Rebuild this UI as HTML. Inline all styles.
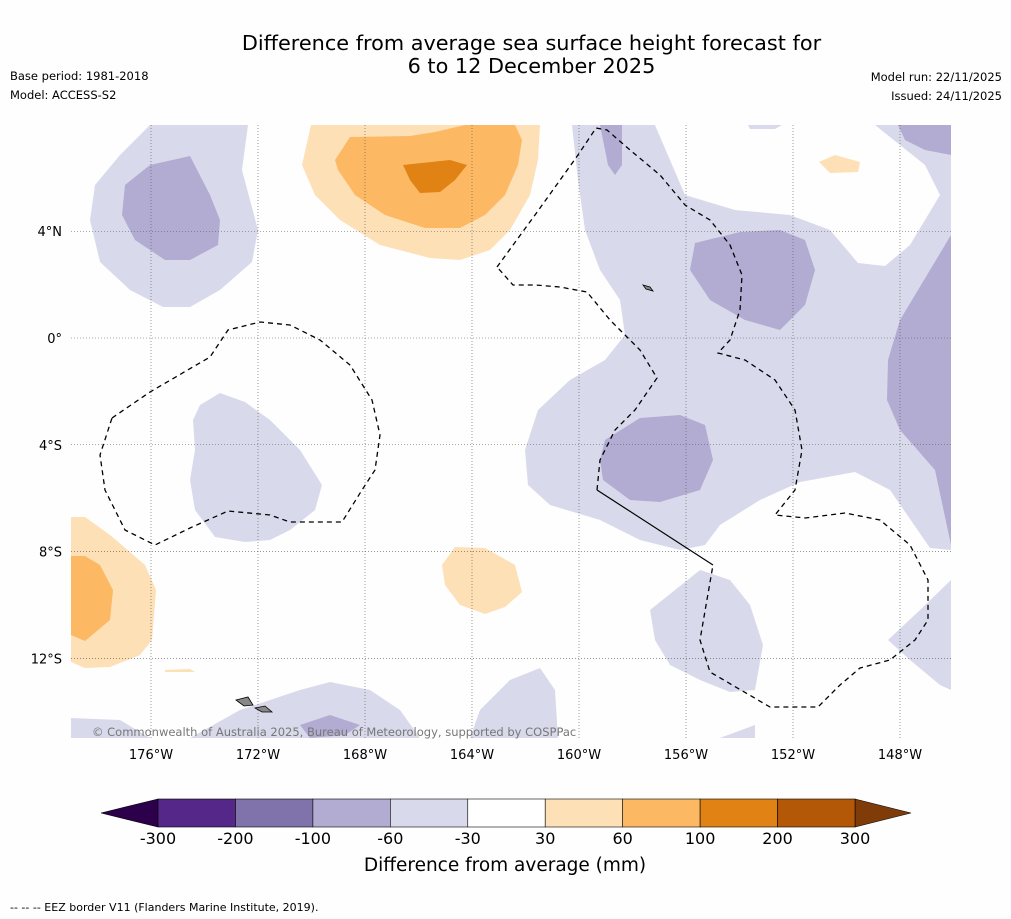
<!DOCTYPE html>
<html><head><meta charset="utf-8">
<style>
body{margin:0;background:#fefefe;}
#wrap{position:relative;width:1011px;height:919px;font-family:"DejaVu Sans",sans-serif;color:#000;}
.t{position:absolute;white-space:nowrap}
</style></head>
<body>
<div id="wrap">
<div class="t" style="left:0;width:1063px;top:32px;text-align:center;font-size:20.8px;line-height:23px">Difference from average sea surface height forecast for<br>6 to 12 December 2025</div>
<div class="t" style="left:10px;top:69px;font-size:11.5px">Base period: 1981-2018</div>
<div class="t" style="left:10px;top:88px;font-size:11.5px">Model: ACCESS-S2</div>
<div class="t" style="right:9px;top:70px;font-size:11.5px">Model run: 22/11/2025</div>
<div class="t" style="right:9px;top:89px;font-size:11.5px">Issued: 24/11/2025</div>
<svg id="map" width="1011" height="919" style="position:absolute;left:0;top:0">
<defs><clipPath id="c"><rect x="71" y="125" width="880" height="613"/></clipPath></defs>
<g clip-path="url(#c)" stroke="none">
<g fill="#d8daeb">
<path d="M150,125L248,125L242,170L258,230L252,262L220,290L190,307L163,307L130,290L100,262L90,220L95,185L120,155Z"/>
<path d="M572,125L655,125L685,195L735,210L790,215L830,230L858,263L885,266L910,245L940,195L925,165L900,145L875,125L951,125L951,550L930,548L890,490L855,472L800,482L760,500L720,525L705,545L680,550L640,540L600,520L550,505L528,485L525,450L538,410L570,380L605,360L625,335L620,300L600,270L585,230L578,180Z"/>
<path d="M748,125L782,125L775,129L750,129Z"/>
<path d="M200,405L220,393L245,402L270,420L300,450L322,485L315,510L290,530L270,540L245,542L215,537L195,510L190,480L195,450L193,420Z"/>
<path d="M650,610L700,570L730,580L750,605L763,645L755,690L730,692L700,680L670,665L655,640Z"/>
<path d="M951,580L920,610L888,640L910,660L940,685L951,690Z"/>
<path d="M71,718L120,720L150,738L71,738Z"/>
<path d="M190,738L240,710L300,690L330,682L370,690L400,710L420,738Z"/>
<path d="M470,738L480,710L510,680L540,668L555,690L558,738Z"/>
<path d="M720,738L755,725L755,738Z"/>
</g>
<g fill="#b2abd2">
<path d="M125,185L150,165L190,156L210,195L220,220L218,245L190,260L165,260L135,240L122,215Z"/>
<path d="M600,125L622,125L622,165L615,175L608,165Z"/>
<path d="M695,243L740,232L780,230L805,240L815,270L805,305L780,330L745,320L710,300L690,270Z"/>
<path d="M951,235L930,270L900,320L888,360L887,400L900,430L935,470L951,545Z"/>
<path d="M898,125L951,125L951,155L925,150L905,140Z"/>
<path d="M605,440L640,418L680,415L705,425L713,460L700,490L660,502L630,500L603,480L600,460Z"/>
<path d="M300,725L330,715L360,725L345,735L310,738Z"/>
</g>
<g fill="#fee0b6">
<path d="M311,125L540,125L538,160L530,195L510,230L490,250L460,260L430,258L380,245L340,220L315,195L302,165Z"/>
<path d="M71,517L85,517L110,535L145,565L156,590L152,640L140,655L110,667L85,668L71,662Z"/>
<path d="M455,547L485,548L515,565L522,592L505,607L485,614L460,605L445,585L442,565Z"/>
<path d="M819,162L835,155L860,162L858,172L830,173Z"/>
<path d="M165,670L190,669L195,672L165,672Z"/>
</g>
<g fill="#fdb863">
<path d="M350,137L410,136L435,132L465,125L515,125L522,140L518,165L505,195L485,215L460,228L425,228L385,215L355,195L338,170L335,160Z"/>
<path d="M71,556L85,556L100,565L113,590L110,620L85,641L71,635Z"/>
</g>
<path fill="#e08214" d="M403,165L450,160L467,165L455,180L440,192L420,193L410,180Z"/>
<g id="grid" stroke="#555" stroke-width="0.6" stroke-dasharray="1,2"></g>
<g fill="none" stroke="#000" stroke-width="1.3" stroke-dasharray="5,4">
<path d="M112,418L150,392L210,357L228,330L260,322L290,325L320,340L350,365L372,400L380,435L375,470L362,490L342,522L290,522L270,515L228,511L190,528L155,545L125,530L105,490L100,455Z"/>
<path d="M497,267L535,215L578,155L596,128L607,130L630,150L660,175L685,205L710,220L730,245L742,275L740,310L730,340L718,353L745,360L775,380L795,410L802,450L795,490L775,515L805,518L845,513L880,520L910,545L928,580L928,620L915,640L890,660L860,668L840,685L818,707L770,707L710,672L700,640L713,565"/>
<path d="M597,490L600,460L615,430L635,410L657,378L640,350L610,320L587,292L560,287L535,285L513,285L497,267"/>
</g>
<path d="M713,565L597,490" stroke="#000" stroke-width="1.2" fill="none"/>
<g fill="#888" stroke="#000" stroke-width="0.8">
<path d="M236,700L248,697L253,705L244,706Z"/>
<path d="M255,708L265,706L272,712L262,712Z"/>
<path d="M643,285L650,287L653,291L646,289Z"/>
</g>
</g>
<text x="92" y="736" font-size="11.5" fill="#777" font-family="DejaVu Sans,sans-serif">© Commonwealth of Australia 2025, Bureau of Meteorology, supported by COSPPac</text>
<g id="lonlab" font-size="13" font-family="DejaVu Sans,sans-serif" text-anchor="middle"></g>
<g id="latlab" font-size="13" font-family="DejaVu Sans,sans-serif" text-anchor="end"></g>
<g id="cbar"></g>
<text x="505" y="871" font-size="18.5" text-anchor="middle" font-family="DejaVu Sans,sans-serif">Difference from average (mm)</text>
<text x="10" y="911" font-size="11" font-family="DejaVu Sans,sans-serif">--  --  -- EEZ border V11 (Flanders Marine Institute, 2019).</text>
</svg>
</div>
<script>
const lonTicks=[-176,-172,-168,-164,-160,-156,-152,-148];
const latTicks=[4,0,-4,-8,-12];
const cbLevels=[-300,-200,-100,-60,-30,30,60,100,200,300];
const cbColors=["#542788","#8073ac","#b2abd2","#d8daeb","#ffffff","#fee0b6","#fdb863","#e08214","#b35806"];
const cbExtend=["#2d004b","#7f3b08"];
const NS="http://www.w3.org/2000/svg";
function xLon(l){return 151+(l+176)*26.75;}
function yLat(l){return 338-l*26.69;}
function mk(t,a,p){const e=document.createElementNS(NS,t);for(const k in a)e.setAttribute(k,a[k]);p.appendChild(e);return e;}
const grid=document.getElementById('grid'),lonlab=document.getElementById('lonlab'),latlab=document.getElementById('latlab');
lonTicks.forEach(l=>{const x=xLon(l);
const ln=mk('line',{x1:x,x2:x,y1:125,y2:738},grid);


const t=mk('text',{x:x,y:759},lonlab);t.textContent=Math.abs(l)+'°W';

});
latTicks.forEach(l=>{const y=yLat(l);
const ln=mk('line',{x1:71,x2:951,y1:y,y2:y},grid);


const t=mk('text',{x:62,y:y+5},latlab);t.textContent=l===0?'0°':Math.abs(l)+'°'+(l>0?'N':'S');

});
const cb=document.getElementById('cbar');
const x0=158,x1=855,y0=799,h=28,w=(x1-x0)/cbColors.length;
const lo=mk('path',{d:`M${x0},${y0}L101,${y0+h/2}L${x0},${y0+h}Z`,fill:cbExtend[0],stroke:'#000','stroke-width':0.6},cb);


const hi=mk('path',{d:`M${x1},${y0}L911,${y0+h/2}L${x1},${y0+h}Z`,fill:cbExtend[1],stroke:'#000','stroke-width':0.6},cb);


cbColors.forEach((c,i)=>{const r=mk('rect',{x:x0+i*w,y:y0,width:w,height:h,fill:c,stroke:'#000','stroke-width':0.6},cb);

});
cbLevels.forEach((v,i)=>{const t=mk('text',{x:x0+i*w,y:844,'font-size':16,'text-anchor':'middle','font-family':'DejaVu Sans,sans-serif'},cb);t.textContent=v;

});
</script>
</body></html>
